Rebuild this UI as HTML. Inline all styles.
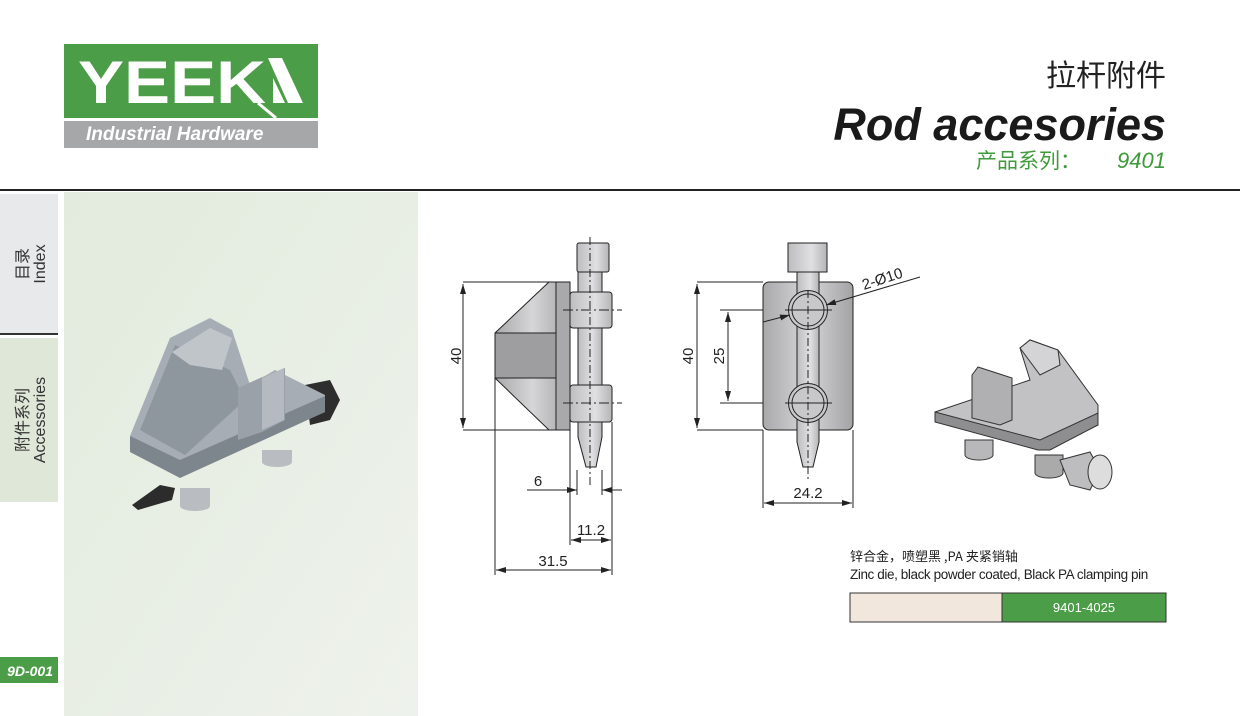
<!DOCTYPE html>
<html><head><meta charset="utf-8"><style>
html,body{margin:0;padding:0;background:#fff;}
body{width:1240px;height:716px;overflow:hidden;position:relative;font-family:"Liberation Sans","Noto Sans CJK SC",sans-serif;}
</style></head><body>
<svg width="1240" height="716" viewBox="0 0 1240 716" xmlns="http://www.w3.org/2000/svg" style="position:absolute;left:0;top:0">
<defs>
<linearGradient id="pan" x1="0" y1="0" x2="1" y2="1"><stop offset="0" stop-color="#e2ebdd"/><stop offset="1" stop-color="#eef2ec"/></linearGradient>
<linearGradient id="met" x1="0" y1="0" x2="1" y2="0"><stop offset="0" stop-color="#a9a9ab"/><stop offset="0.5" stop-color="#d6d6d8"/><stop offset="1" stop-color="#a3a3a5"/></linearGradient>
<linearGradient id="met2" x1="0" y1="0" x2="1" y2="0"><stop offset="0" stop-color="#bdbdbf"/><stop offset="0.6" stop-color="#e0e0e2"/><stop offset="1" stop-color="#b5b5b7"/></linearGradient>
<marker id="ar" viewBox="0 0 10 6" refX="10" refY="3" markerWidth="10" markerHeight="6" orient="auto-start-reverse" markerUnits="userSpaceOnUse"><path d="M0,0 L10,3 L0,6 z" fill="#222"/></marker>
</defs>
<!-- header -->
<rect x="64" y="44" width="254" height="74" fill="#4b9e47"/>
<rect x="64" y="121" width="254" height="27" fill="#a6a7a9"/>
<text x="78" y="103" font-family="Liberation Sans" font-weight="900" font-size="60" fill="#fff" textLength="188" lengthAdjust="spacingAndGlyphs">YEEK</text>
<path d="M268,58 L282,58 L303,103 L288,103 Z M273,78 L285,103 L273,103 Z" fill="#fff"/>
<path d="M258,103 L276,118" stroke="#fff" stroke-width="3"/>
<text x="86" y="140" font-weight="bold" font-style="italic" font-size="19" fill="#fff">Industrial Hardware</text>
<text x="1166" y="86" text-anchor="end" font-size="30" fill="#222" font-family="Noto Sans CJK SC, sans-serif">拉杆附件</text>
<text x="1166" y="140" text-anchor="end" font-size="45" font-weight="bold" font-style="italic" fill="#1a1a1a">Rod accesories</text>
<text x="976" y="168" font-size="21" fill="#3f9a3b" font-family="Noto Sans CJK SC, sans-serif">产品系列：</text>
<text x="1166" y="168" text-anchor="end" font-size="22" font-style="italic" fill="#3f9a3b">9401</text>
<rect x="0" y="189" width="1240" height="2" fill="#222"/>
<!-- left tabs -->
<rect x="0" y="194" width="58" height="139" fill="#e8e9eb"/>
<rect x="0" y="333" width="58" height="2" fill="#333"/>
<rect x="0" y="338" width="58" height="164" fill="#dfe7d8"/>
<g font-size="16" fill="#333">
<text transform="translate(44,264) rotate(-90)" text-anchor="middle" font-family="Liberation Sans, Noto Sans CJK SC, sans-serif"><tspan x="0" dy="-16">目录</tspan><tspan x="0" dy="17">Index</tspan></text>
<text transform="translate(44,420) rotate(-90)" text-anchor="middle" font-family="Liberation Sans, Noto Sans CJK SC, sans-serif"><tspan x="0" dy="-16">附件系列</tspan><tspan x="0" dy="17">Accessories</tspan></text>
</g>
<rect x="0" y="657" width="58" height="26" fill="#4b9e47"/>
<text x="53" y="676" text-anchor="end" font-size="14" font-weight="bold" font-style="italic" fill="#fff">9D-001</text>
<rect x="64" y="192" width="354" height="524" fill="url(#pan)"/>
<!-- left iso -->
<g stroke="none">
<path d="M132,505 L160,485 L175,488 L172,500 L138,510 Z" fill="#2c2c2c"/>
<path d="M180,488 h30 v18 a15,5 0 0 1 -30,0 z" fill="#b9bcc0"/>
<path d="M262,450 h30 v12 a15,5 0 0 1 -30,0 z" fill="#b9bcc0"/>
<path d="M305,385 L330,380 L340,400 L330,420 L310,425 Z" fill="#2e2e2e"/>
<path d="M130,436 L170,338 L210,318 L232,330 L250,385 L275,370 L325,395 L325,412 L180,475 L130,450 Z" fill="#a6adb4"/>
<path d="M130,436 L180,460 L325,396 L325,412 L180,478 L130,452 Z" fill="#7d858d"/>
<path d="M140,430 L175,345 L230,370 L245,400 L185,455 Z" fill="#8e969e"/>
<path d="M172,352 L210,328 L232,338 L222,370 L190,365 Z" fill="#c0c5ca"/>
<path d="M238,388 L260,378 L285,368 L285,420 L262,432 L238,440 Z" fill="#9aa1a8"/>
<path d="M262,378 L284,368 L284,420 L262,430 Z" fill="#b4babf"/>
</g>
<!-- drawing left view -->
<g stroke="#222" stroke-width="1" fill="none">
<path d="M463,282 H556 M463,430 H556"/>
<line x1="463" y1="284" x2="463" y2="428" marker-start="url(#ar)" marker-end="url(#ar)"/>
<path d="M549,282 L495,333 L495,378 L549,430 L570,430 L570,282 Z" fill="url(#met)"/>
<path d="M495,333 L495,378 L556,378 L556,333 Z" fill="#9e9ea0"/>
<path d="M556,282 V430 M495,333 H556 M495,378 H556"/>
<rect x="556" y="282" width="14" height="148" fill="#a9a9ab"/>
<rect x="577" y="243" width="32" height="29" rx="2" fill="url(#met2)"/>
<rect x="578" y="272" width="24" height="150" fill="url(#met2)"/>
<rect x="570" y="292" width="42" height="36" rx="3" fill="url(#met2)"/>
<rect x="570" y="385" width="42" height="37" rx="3" fill="url(#met2)"/>
<path d="M578,422 L578,437 L586,467 L596,467 L602,437 L602,422 Z" fill="url(#met2)"/>
<path d="M590,237 V485" stroke-dasharray="8,3,2,3"/>
<path d="M563,310 H622 M563,403 H622" stroke-dasharray="10,3,2,3"/>
<path d="M577,470 V495 M602,470 V495 M570,430 V545 M612,422 V575 M495,378 V575"/>
<line x1="527" y1="490" x2="577" y2="490" marker-end="url(#ar)"/>
<line x1="622" y1="490" x2="602" y2="490" marker-end="url(#ar)"/>
<line x1="571" y1="540" x2="611" y2="540" marker-start="url(#ar)" marker-end="url(#ar)"/>
<line x1="496" y1="570" x2="611" y2="570" marker-start="url(#ar)" marker-end="url(#ar)"/>
</g>
<g font-size="15" fill="#222">
<text transform="translate(461,356) rotate(-90)" text-anchor="middle">40</text>
<text x="538" y="486" text-anchor="middle">6</text>
<text x="591" y="535" text-anchor="middle">11.2</text>
<text x="553" y="566" text-anchor="middle">31.5</text>
</g>
<!-- right view -->
<g stroke="#222" stroke-width="1" fill="none">
<path d="M697,282 H763 M697,430 H763 M720,310 H790 M720,403 H790"/>
<line x1="697" y1="284" x2="697" y2="428" marker-start="url(#ar)" marker-end="url(#ar)"/>
<line x1="728" y1="312" x2="728" y2="401" marker-start="url(#ar)" marker-end="url(#ar)"/>
<rect x="763" y="282" width="90" height="148" rx="6" fill="url(#met)"/>
<rect x="788" y="243" width="39" height="29" fill="url(#met2)"/>
<rect x="797" y="272" width="22" height="170" fill="url(#met2)"/>
<path d="M797,430 L797,442 L803,467 L813,467 L819,442 L819,430" fill="url(#met2)"/>
<circle cx="808" cy="310" r="19.5" fill="#c8c8ca"/><circle cx="808" cy="310" r="16"/>
<circle cx="808" cy="403" r="19.5" fill="#c8c8ca"/><circle cx="808" cy="403" r="16"/>
<path d="M808,290 V480" stroke-dasharray="8,3,2,3"/>
<path d="M785,310 H832 M785,403 H832"/>
<line x1="763" y1="322" x2="790" y2="315" marker-end="url(#ar)"/>
<line x1="920" y1="277" x2="826" y2="305" marker-end="url(#ar)"/>
<path d="M763,430 V508 M853,430 V508"/>
<line x1="764" y1="503" x2="852" y2="503" marker-start="url(#ar)" marker-end="url(#ar)"/>
</g>
<g font-size="15" fill="#222">
<text transform="translate(693,356) rotate(-90)" text-anchor="middle">40</text>
<text transform="translate(724,356) rotate(-90)" text-anchor="middle">25</text>
<text x="808" y="498" text-anchor="middle">24.2</text>
<text transform="translate(864,290) rotate(-18)">2-Ø10</text>
</g>
<!-- right iso -->
<g stroke="#333" stroke-width="1">
<path d="M965,440 h28 v15 a14,5 0 0 1 -28,0 z" fill="#b8b8ba"/>
<path d="M1035,455 h28 v18 a14,5 0 0 1 -28,0 z" fill="#aaa"/>
<path d="M1060,460 L1090,452 L1100,470 L1090,490 L1070,485 Z" fill="#bdbdbf"/>
<ellipse cx="1100" cy="472" rx="12" ry="17" fill="#ddd"/>
<path d="M935,412 L1030,380 L1020,348 L1030,340 L1058,350 L1098,405 L1098,425 L1050,448 L1040,448 L935,420 Z" fill="#c2c2c4"/>
<path d="M935,412 L1040,440 L1098,413 L1098,425 L1050,450 L1038,450 L935,422 Z" fill="#8e8e90"/>
<path d="M1020,348 L1030,340 L1058,350 L1060,365 L1040,375 Z" fill="#d4d4d6"/>
<path d="M972,375 L978,367 L1012,378 L1012,420 L1000,425 L972,418 Z" fill="#b0b0b2"/>
</g>
<!-- spec -->
<text x="850" y="561" font-size="13" fill="#222" font-family="Noto Sans CJK SC, sans-serif">锌合金，喷塑黑 ,PA 夹紧销轴</text>
<text x="850" y="579" font-size="13.5" fill="#222" letter-spacing="-0.4">Zinc die, black powder coated, Black PA clamping pin</text>
<rect x="850" y="593" width="152" height="29" fill="#f1e7dd" stroke="#333"/>
<rect x="1002" y="593" width="164" height="29" fill="#4b9e47" stroke="#333"/>
<text x="1084" y="612" text-anchor="middle" font-size="13" fill="#fff">9401-4025</text>
</svg>
</body></html>
